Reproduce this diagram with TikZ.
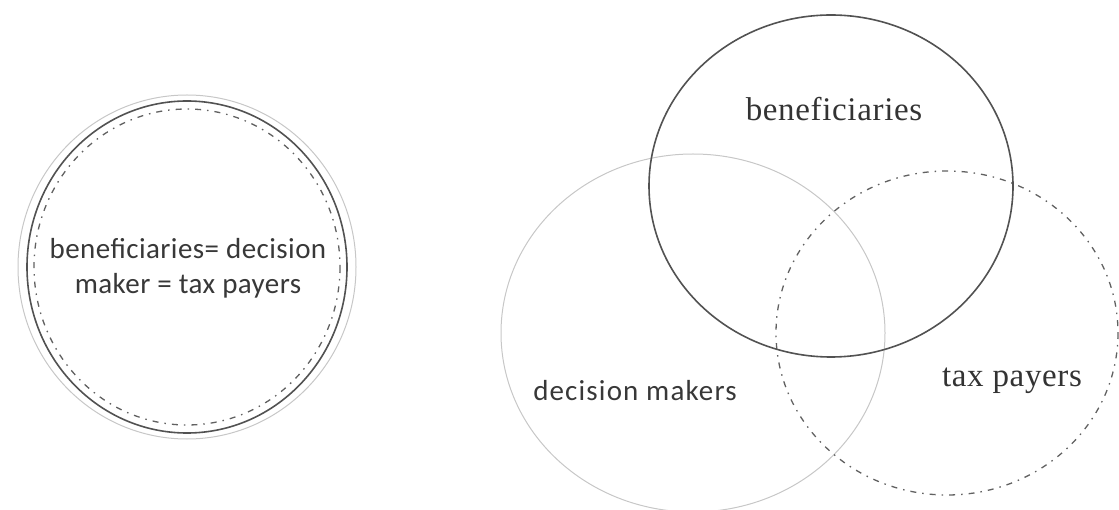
\documentclass[tikz,border=0pt]{standalone}
\usepackage{fontspec}
\setmainfont{Liberation Serif}
\newfontfamily\carlitofont[LetterSpace=4]{Carlito}
\newfontfamily\carlitotight[LetterSpace=1.5]{Carlito}
\newfontfamily\seriflsfont[LetterSpace=2]{Liberation Serif}
\begin{document}
\begin{tikzpicture}[x=1pt,y=-1pt,
  solidc/.style={draw=black!68, line width=1.6pt},
  lightc/.style={draw=black!22, line width=1pt},
  dashdotc/.style={draw=black!62, line width=1.3pt, dash pattern=on 6pt off 6pt on 1.5pt off 6pt},
  sanslab/.style={text=black!78, font=\carlitofont\fontsize{29}{35}\selectfont, align=center, inner sep=0pt},
  leftlab/.style={text=black!78, font=\carlitotight\fontsize{29}{35}\selectfont, align=center, inner sep=0pt},
  seriflab/.style={text=black!80, font=\seriflsfont\fontsize{33}{40}\selectfont, inner sep=0pt}]
\useasboundingbox (0,0) rectangle (1119,510);
% left: single circle
\draw[lightc] (187,267) ellipse [x radius=169, y radius=172];
\draw[solidc] (187,267) ellipse [x radius=160, y radius=166];
\draw[dashdotc] (187,267) ellipse [x radius=153, y radius=158];
\node[leftlab] (same) at (188,268) {beneficiaries= decision\\maker = tax payers};
% right: Venn diagram
\draw[lightc] (693,333) ellipse [x radius=192, y radius=179];
\draw[dashdotc] (947,333) ellipse [x radius=171, y radius=162];
\draw[solidc] (831,186) ellipse [x radius=182, y radius=171];
\node[seriflab, anchor=base] (ben) at (834,121) {beneficiaries};
\node[seriflab, anchor=base] (tax) at (1012,387) {tax payers};
\node[sanslab, anchor=base] (dec) at (635,400) {decision makers};
\end{tikzpicture}
\end{document}
